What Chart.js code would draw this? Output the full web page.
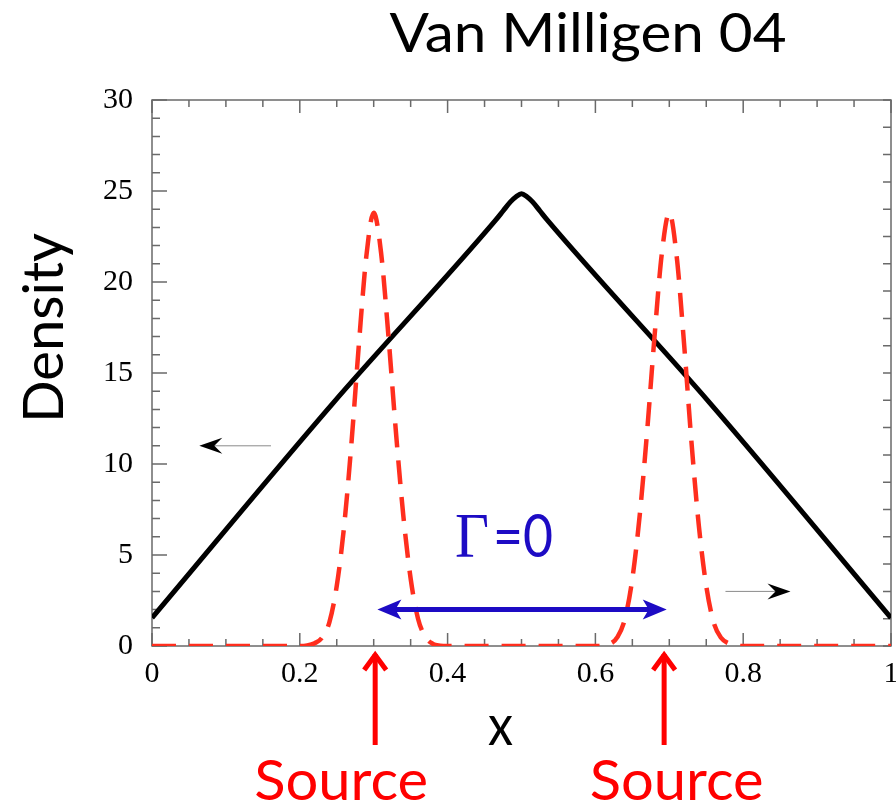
<!DOCTYPE html>
<html>
<head>
<meta charset="utf-8">
<script src="https://cdn.jsdelivr.net/npm/chart.js@4.4.0/dist/chart.umd.min.js"></script>
<style>
  body { margin: 0; background: #fff; }
  canvas { display: block; }
</style>
</head>
<body>
<canvas id="chart" width="896" height="804"></canvas>
<script>
// density profile (black, left axis)
const blackX = [0, 0.245, 0.465, 0.475, 0.485, 0.493, 0.5, 0.507, 0.515, 0.525, 0.535, 0.755, 1]
const blackY = [1.55, 13.35, 23.4, 23.9, 24.4, 24.7, 24.85, 24.7, 24.4, 23.9, 23.4, 13.35, 1.55]

// source profile (red dashed)
const redX = [0, 0.2, 0.21, 0.22, 0.23, 0.24, 0.25, 0.26, 0.27, 0.28, 0.29, 0.3,
  0.31, 0.32, 0.33, 0.34, 0.35, 0.36, 0.37, 0.38, 0.39, 0.4,
  0.6, 0.61, 0.62, 0.63, 0.64, 0.65, 0.66, 0.67, 0.68, 0.69, 0.7,
  0.71, 0.72, 0.73, 0.74, 0.75, 0.76, 0.77, 0.78, 0.79, 0.8, 1]
const redY = [0, 0, 0.03, 0.15, 0.45, 1.3, 3.3, 6.6, 11.2, 16.6, 21.4, 23.8,
  21.6, 17.0, 11.8, 7.2, 3.7, 1.5, 0.5, 0.12, 0.02, 0,
  0, 0.02, 0.12, 0.5, 1.5, 3.7, 7.2, 11.8, 17.0, 21.6, 23.8,
  21.4, 16.6, 11.2, 6.6, 3.3, 1.3, 0.45, 0.15, 0.03, 0, 0]

const xMin = 0, xMax = 1, xStep = 0.2, xMinor = 0.05
const yMin = 0, yMax = 30, yStep = 5, yMinor = 1, yRightMinor = 1.5

const title = 'Van Milligen 04'
const yTitle = 'Density'
const xTitle = 'x'
const sourceLabel = 'Source'
const sourceX = [0.302, 0.693]

const toPoints = (xs, ys) => xs.map((x, i) => ({ x: x, y: ys[i] }))

const SANS = 'Lato, "Open Sans", sans-serif'
const SERIF = '"Liberation Serif", "DejaVu Serif", serif'

// draw text squeezed/stretched to a target width
function fitText(ctx, text, font, x, y, width, align) {
  ctx.save()
  ctx.font = font
  const w = ctx.measureText(text).width
  const s = width / w
  ctx.translate(x, y)
  ctx.scale(s, 1)
  ctx.textAlign = align || 'center'
  ctx.textBaseline = 'alphabetic'
  ctx.fillText(text, 0, 0)
  ctx.restore()
}

function arrowHead(ctx, tipX, tipY, dir, len, half, notch) {
  // dir: +1 points right, -1 points left
  ctx.beginPath()
  ctx.moveTo(tipX, tipY)
  ctx.lineTo(tipX - dir * len, tipY - half)
  ctx.lineTo(tipX - dir * (len - notch), tipY)
  ctx.lineTo(tipX - dir * len, tipY + half)
  ctx.closePath()
  ctx.fill()
}

const framePlugin = {
  id: 'frame',
  beforeDatasetsDraw(chart) {
    const { ctx, chartArea: a, scales: { x, y } } = chart
    ctx.save()
    ctx.strokeStyle = '#6a6a6a'
    ctx.lineWidth = 1.5
    ctx.strokeRect(a.left, a.top, a.right - a.left, a.bottom - a.top)
    ctx.beginPath()
    for (let i = 0; i <= Math.round((xMax - xMin) / xMinor); i++) {
      const v = xMin + i * xMinor
      const px = x.getPixelForValue(v)
      const major = i % 4 === 0
      ctx.moveTo(px, a.bottom); ctx.lineTo(px, a.bottom - (major ? 13 : 7))
      ctx.moveTo(px, a.top); ctx.lineTo(px, a.top + (major ? 13 : 7))
    }
    for (let i = 0; i <= Math.round((yMax - yMin) / yMinor); i++) {
      const py = y.getPixelForValue(yMin + i * yMinor)
      const major = i % 5 === 0
      ctx.moveTo(a.left, py); ctx.lineTo(a.left + (major ? 15 : 8), py)
    }
    for (let v = yMin; v <= yMax; v += yRightMinor) {
      const py = y.getPixelForValue(v)
      ctx.moveTo(a.right, py); ctx.lineTo(a.right - 8, py)
    }
    ctx.stroke()
    ctx.restore()
  },
  afterDraw(chart) {
    const { ctx, chartArea: a, scales: { x, y } } = chart
    ctx.save()

    // black direction arrows
    ctx.strokeStyle = '#8a8a8a'
    ctx.fillStyle = '#000'
    ctx.lineWidth = 1
    let py = y.getPixelForValue(11)
    ctx.beginPath()
    ctx.moveTo(x.getPixelForValue(0.161), py)
    ctx.lineTo(x.getPixelForValue(0.075), py)
    ctx.stroke()
    arrowHead(ctx, x.getPixelForValue(0.064), py, -1, 23, 8, 8)
    py = y.getPixelForValue(3)
    ctx.beginPath()
    ctx.moveTo(x.getPixelForValue(0.776), py)
    ctx.lineTo(x.getPixelForValue(0.855), py)
    ctx.stroke()
    arrowHead(ctx, x.getPixelForValue(0.864), py, 1, 23, 8, 8)

    // blue double arrow, Gamma = 0
    const blue = '#1d0bc4'
    ctx.strokeStyle = blue
    ctx.fillStyle = blue
    ctx.lineWidth = 5
    py = y.getPixelForValue(2)
    const bx0 = x.getPixelForValue(0.305), bx1 = x.getPixelForValue(0.6965)
    ctx.beginPath()
    ctx.moveTo(bx0 + 15, py); ctx.lineTo(bx1 - 15, py)
    ctx.stroke()
    arrowHead(ctx, bx0, py, -1, 24, 10, 6)
    arrowHead(ctx, bx1, py, 1, 24, 10, 6)
    const gBase = y.getPixelForValue(4.9)
    const gLeft = x.getPixelForValue(0.41)
    fitText(ctx, 'Γ', '64px ' + SERIF, gLeft, gBase, 34, 'left')
    fitText(ctx, '=0', '60px ' + SANS, gLeft + 38, gBase, 60, 'left')

    // red source arrows and labels
    ctx.strokeStyle = '#ff0000'
    ctx.fillStyle = '#ff0000'
    ctx.lineWidth = 5
    ctx.lineJoin = 'miter'
    sourceX.forEach(v => {
      const px = x.getPixelForValue(v)
      const tip = a.bottom + 6
      ctx.beginPath()
      ctx.moveTo(px, tip + 2); ctx.lineTo(px, a.bottom + 99)
      ctx.stroke()
      ctx.beginPath()
      ctx.moveTo(px - 11, tip + 18); ctx.lineTo(px, tip + 3); ctx.lineTo(px + 11, tip + 18)
      ctx.stroke()
    })
    fitText(ctx, sourceLabel, '56px ' + SANS, x.getPixelForValue(0.256), 800, 174)
    fitText(ctx, sourceLabel, '56px ' + SANS, x.getPixelForValue(0.71), 800, 174)

    // titles
    ctx.fillStyle = '#000'
    fitText(ctx, xTitle, '56px ' + SANS, x.getPixelForValue(0.4715), 745, 25)
    fitText(ctx, title, '55px ' + SANS, 588, 52, 397)
    ctx.save()
    ctx.translate(63, 328)
    ctx.rotate(-Math.PI / 2)
    fitText(ctx, yTitle, '57px ' + SANS, 0, 0, 190)
    ctx.restore()

    ctx.restore()
  }
}

new Chart(document.getElementById('chart'), {
  type: 'scatter',
  data: {
    datasets: [
      {
        label: 'Source',
        data: toPoints(redX, redY),
        showLine: true,
        borderColor: '#ff2e1e',
        borderWidth: 4.5,
        borderDash: [24, 13],
        borderCapStyle: 'butt',
        cubicInterpolationMode: 'monotone',
        pointRadius: 0,
        fill: false
      },
      {
        label: 'Density',
        data: toPoints(blackX, blackY),
        showLine: true,
        borderColor: '#000',
        borderWidth: 5,
        borderJoinStyle: 'round',
        cubicInterpolationMode: 'monotone',
        pointRadius: 0,
        fill: false
      }
    ]
  },
  options: {
    responsive: false,
    animation: false,
    devicePixelRatio: 1,
    layout: { padding: { top: 100, right: 5, left: 0, bottom: 0 } },
    plugins: {
      legend: { display: false },
      tooltip: { enabled: false },
      title: { display: false }
    },
    scales: {
      x: {
        type: 'linear',
        min: xMin,
        max: xMax,
        grid: { display: false, drawTicks: false },
        border: { display: false },
        ticks: {
          stepSize: xStep,
          padding: 10,
          maxRotation: 0,
          autoSkip: false,
          color: '#000',
          font: { family: SERIF, size: 30 },
          callback: v => String(+v.toFixed(2))
        },
        afterFit(scale) {
          scale.height = 158
          scale.paddingLeft = 0
          scale.paddingRight = 0
        }
      },
      y: {
        type: 'linear',
        min: yMin,
        max: yMax,
        grid: { display: false, drawTicks: false },
        border: { display: false },
        ticks: {
          stepSize: yStep,
          padding: 19,
          color: '#000',
          font: { family: SERIF, size: 30 }
        },
        afterFit(scale) {
          scale.width = 152
          scale.paddingTop = 0
          scale.paddingBottom = 0
        }
      }
    }
  },
  plugins: [framePlugin]
})
</script>
</body>
</html>
